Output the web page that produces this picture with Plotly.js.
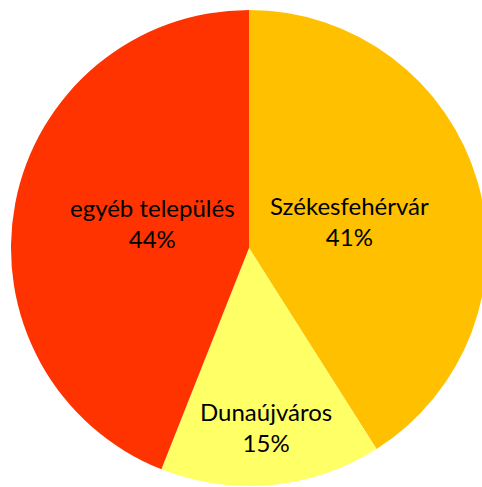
<!DOCTYPE html>
<html><head><meta charset="utf-8">
<script src="https://cdn.plot.ly/plotly-3.0.1.min.js"></script>
<style>html,body{margin:0;padding:0;overflow:hidden;background:#fff;width:482px;height:487px}</style>
</head><body><div id="chart" style="width:500px;height:487px"></div>
<script>
const labels = ["Székesfehérvár", "Dunaújváros", "egyéb település"];
const values = [41, 15, 44];
const colors = ["#FFC000", "#FFFF66", "#FF3300"];

const W = 500, H = 487;
// label anchor points in pixels (layout only)
const labelPos = [[349, 221], [266, 427], [152, 223]];

const total = values.reduce((a, b) => a + b, 0);
const annotations = labels.map((lab, i) => ({
  text: lab + "<br>" + Math.round(values[i] / total * 100) + "%",
  x: labelPos[i][0] / W, y: 1 - labelPos[i][1] / H,
  xref: "paper", yref: "paper", xanchor: "center", yanchor: "middle",
  showarrow: false, align: "center",
  font: {family: "Lato, 'Noto Sans', sans-serif", size: 24, color: "#000"}
}));

const trace = {
  type: "pie",
  labels: labels,
  values: values,
  sort: false,
  direction: "clockwise",
  rotation: 0,
  marker: {colors: colors, line: {width: 0}},
  textinfo: "none",
  hoverinfo: "none",
  domain: {x: [11 / W, 487 / W], y: [1 - 486 / H, 1 - 10 / H]}
};
const layout = {
  width: W, height: H,
  margin: {l: 0, r: 0, t: 0, b: 0},
  showlegend: false,
  paper_bgcolor: "#fff",
  annotations: annotations
};
Plotly.newPlot("chart", [trace], layout, {staticPlot: true});
</script></body></html>
